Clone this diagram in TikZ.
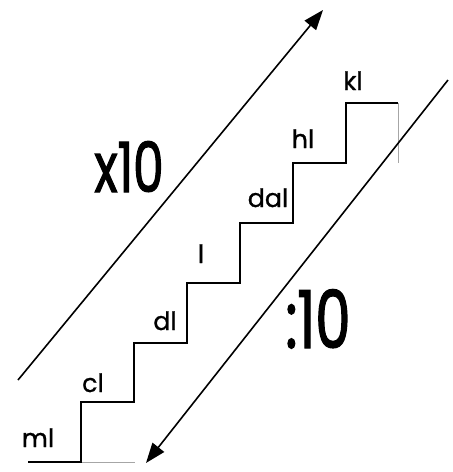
\documentclass[tikz,border=0pt]{standalone}
\usepackage{fontspec}
\setmainfont{Poppins}
\newfontfamily\smallfont[FakeBold=1]{Poppins}
\newfontfamily\bigfont[FakeStretch=0.7, FakeBold=1.5]{Poppins}
\usetikzlibrary{arrows.meta}
\tikzset{
  stair/.style={draw=black, line width=1.4pt},
  ghost/.style={draw=black!35, line width=0.6pt},
  slope/.style={-{Triangle[length=15pt, width=11pt]}, draw=black, line width=1.2pt},
  lvl/.style={anchor=base, inner sep=0pt, font=\smallfont\fontsize{19}{19}\selectfont},
  fac/.style={anchor=base, inner sep=0pt, font=\bigfont\fontsize{52}{52}\selectfont},
}
\begin{document}
\begin{tikzpicture}[x=0.75pt, y=-0.75pt]
  \useasboundingbox (0,0) rectangle (453,472);

  % corners of the stairs
  \coordinate (s0) at (28,462);
  \coordinate (s1) at (81,462);
  \coordinate (s2) at (81,402);
  \coordinate (s3) at (134,402);
  \coordinate (s4) at (134,343);
  \coordinate (s5) at (187,343);
  \coordinate (s6) at (187,283);
  \coordinate (s7) at (240,283);
  \coordinate (s8) at (240,223);
  \coordinate (s9) at (293,223);
  \coordinate (s10) at (293,163);
  \coordinate (s11) at (346,163);
  \coordinate (s12) at (346,103);
  \coordinate (s13) at (398,103);
  \coordinate (g1) at (135,462);
  \coordinate (g2) at (398,163);

  \draw[ghost] (s1) -- (g1);
  \draw[ghost] (s13) -- (g2);
  \draw[stair] (s0) -- (s1) -- (s2) -- (s3) -- (s4) -- (s5) -- (s6)
    -- (s7) -- (s8) -- (s9) -- (s10) -- (s11) -- (s12) -- (s13);

  % level names
  \node[lvl] (ml) at (38,447) {ml};
  \node[lvl] (cl) at (93,392) {cl};
  \node[lvl] (dl) at (165,330) {dl};
  \node[lvl] (l) at (201,263) {l};
  \node[lvl] (dal) at (268,207) {dal};
  \node[lvl] (hl) at (303,148) {hl};
  \node[lvl] (kl) at (353,90) {kl};

  % up and down
  \coordinate (upA) at (18,380);
  \coordinate (upB) at (323,10);
  \coordinate (dnA) at (448,80);
  \coordinate (dnB) at (146,463);
  \draw[slope] (upA) -- (upB);
  \draw[slope] (dnA) -- (dnB);

  \node[fac] (mul) at (129,192) {x10};
  \node[fac, font=\bigfont\fontsize{60}{60}\selectfont] (div) at (318,348) {:10};
\end{tikzpicture}
\end{document}
